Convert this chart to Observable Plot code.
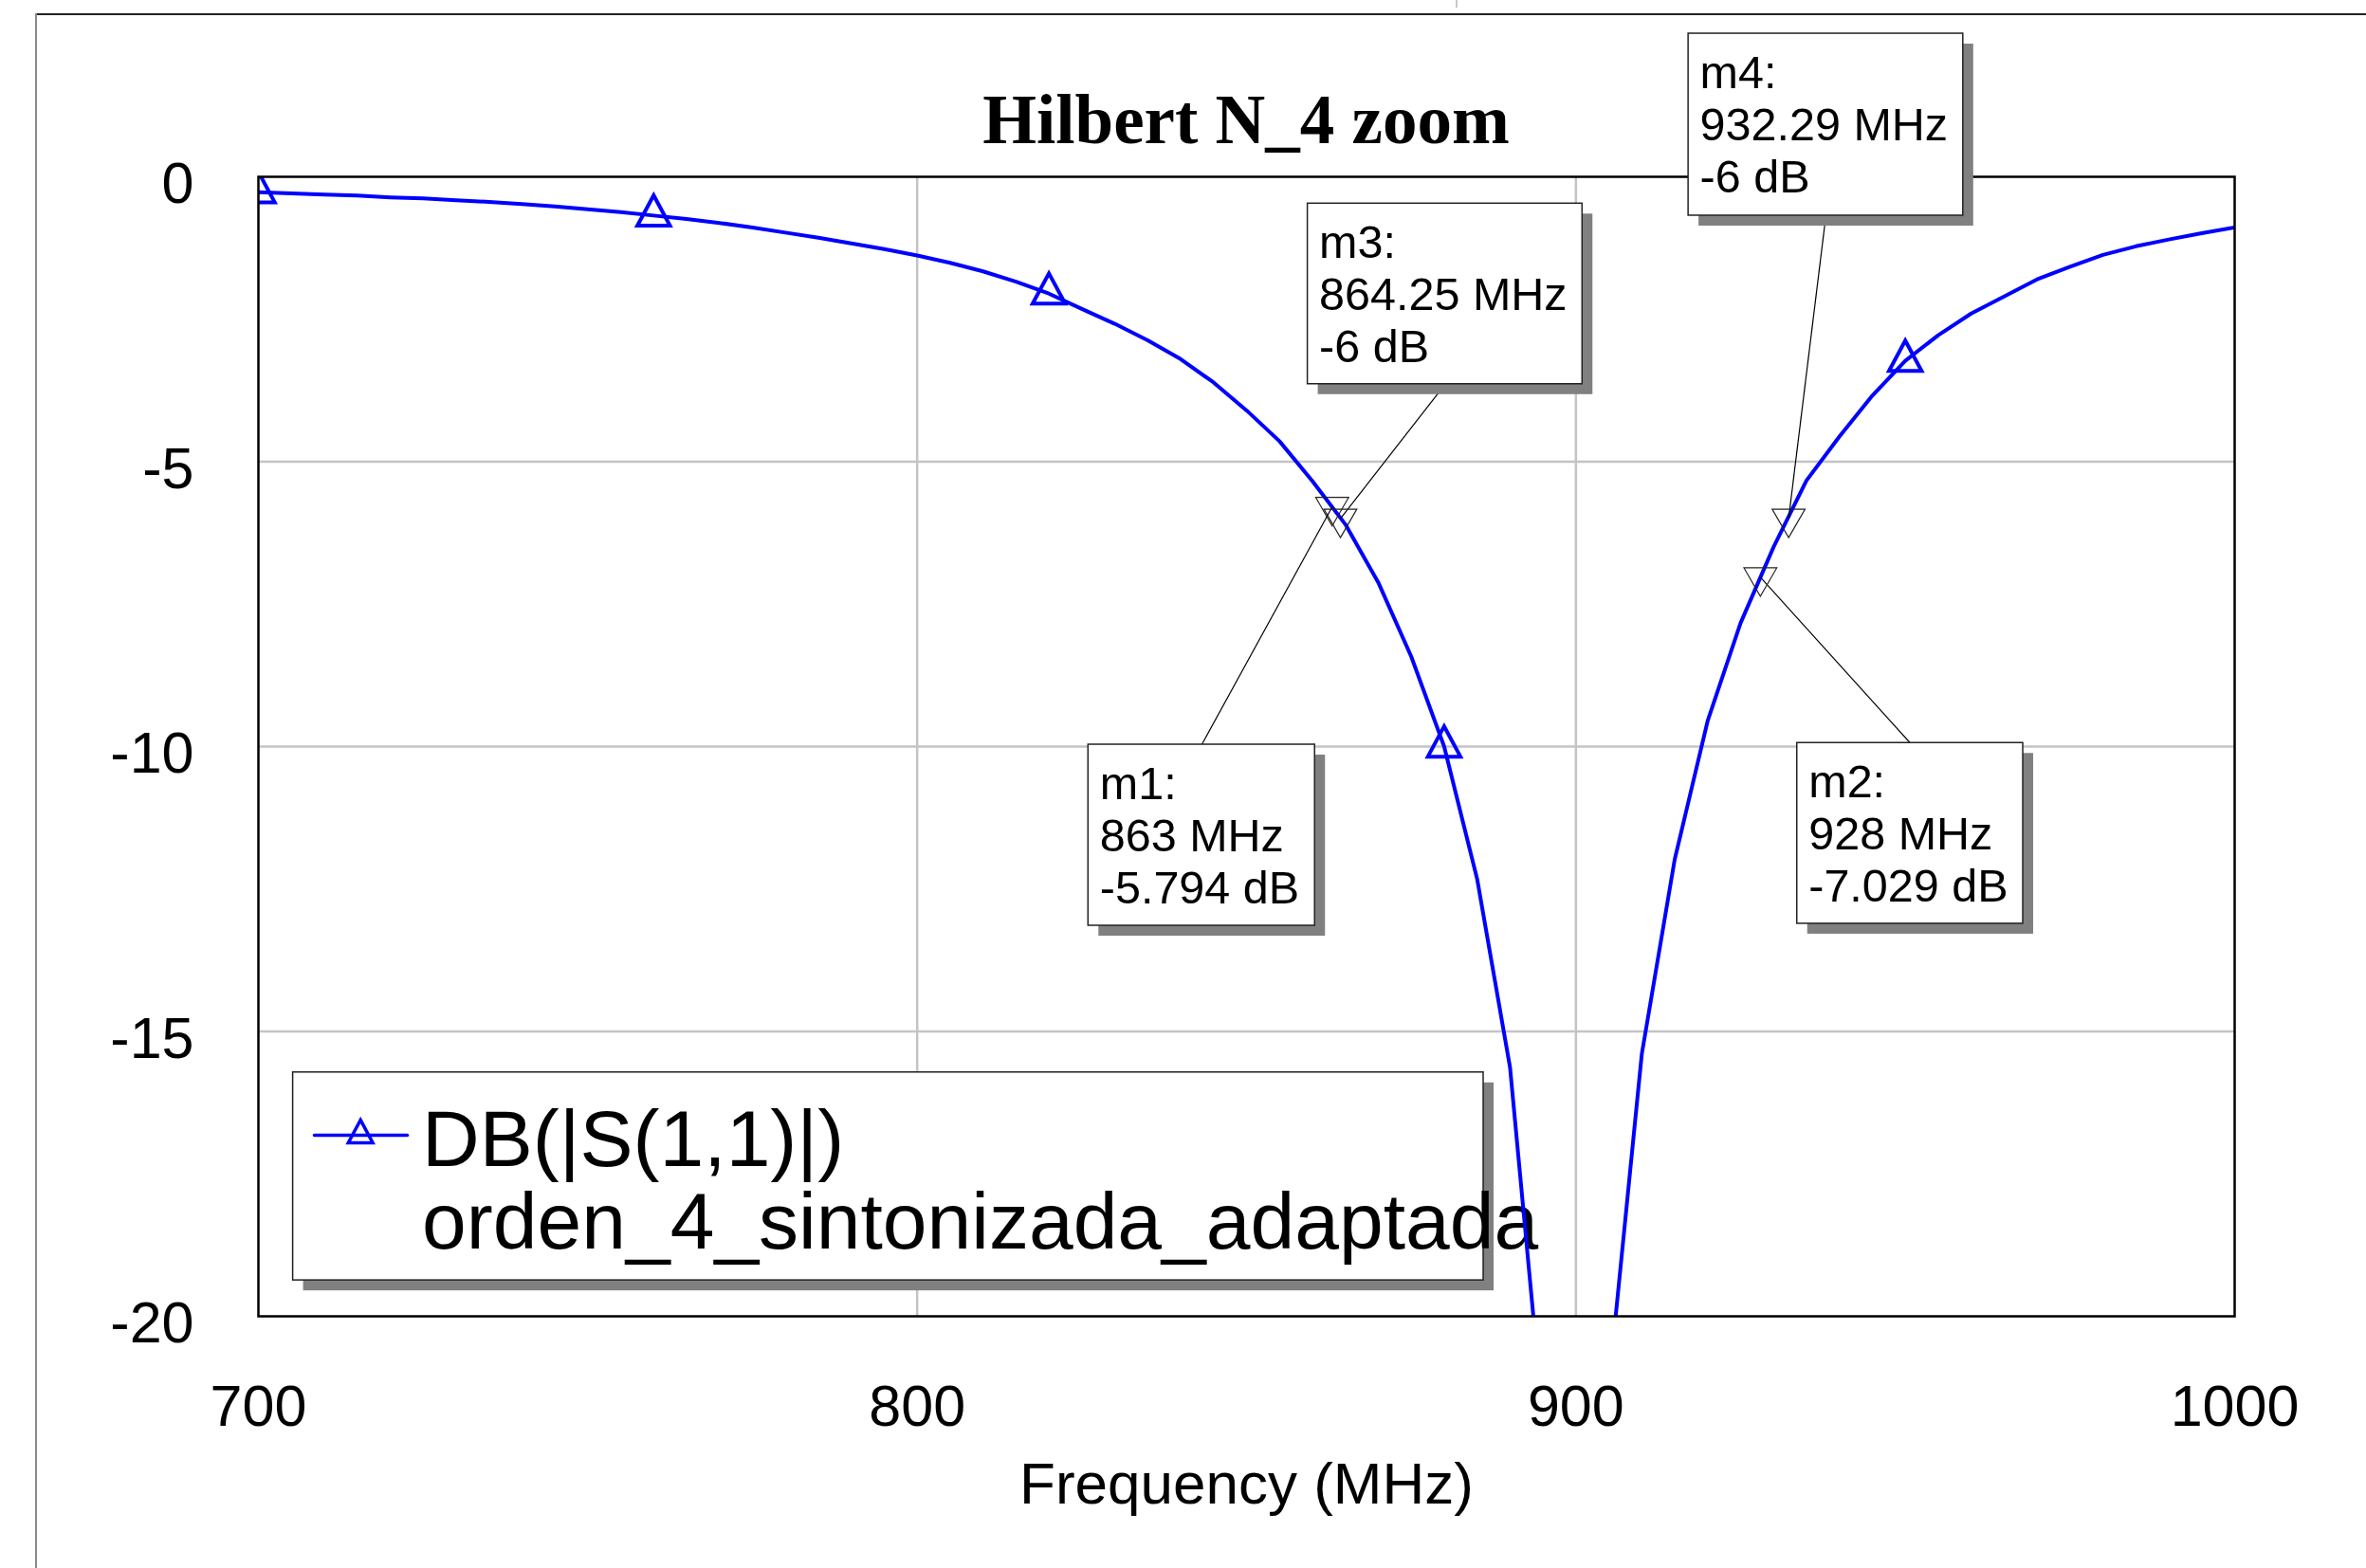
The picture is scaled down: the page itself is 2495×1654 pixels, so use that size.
<!DOCTYPE html>
<html>
<head>
<meta charset="utf-8">
<script src="https://cdn.jsdelivr.net/npm/d3@7"></script>
<script src="https://cdn.jsdelivr.net/npm/@observablehq/plot@0.6"></script>
<style>
  html, body { margin: 0; padding: 0; background: #fff; }
  #wrap { position: relative; width: 2495px; height: 1654px; overflow: hidden; background: #fff; }
  #chart { position: absolute; left: 0; top: 0; }
  #title { position: absolute; left: 0; top: 90px; width: 2628px; margin: 0; text-align: center;
           font-family: "Liberation Serif", "Times New Roman", serif; font-weight: bold;
           font-size: 73px; line-height: 1; color: #000; }
  .edge-top { position: absolute; left: 38px; top: 14px; right: 0; height: 2px; background: #222; }
  .edge-left { position: absolute; left: 37px; top: 14px; bottom: 0; width: 2px; background: #8a8a8a; }
  .nick { position: absolute; left: 1535px; top: 0; width: 2px; height: 8px; background: #c8c8c8; }
</style>
</head>
<body>
<div id="wrap">
  <div id="chart"></div>
  <h1 id="title"></h1>
  <div class="edge-top"></div>
  <div class="edge-left"></div>
  <div class="nick"></div>
</div>
<script>
// ---------------- data ----------------
const title = "Hilbert N_4 zoom";
const xLabel = "Frequency (MHz)";
const xTicks = [700, 800, 900, 1000];
const yTicks = [0, -5, -10, -15, -20];

const frequencies = [700, 705, 710, 715, 720, 725, 730, 735, 740, 745,
                     750, 755, 760, 765, 770, 775, 780, 785, 790, 795,
                     800, 805, 810, 815, 820, 825, 830, 835, 840, 845,
                     850, 855, 860, 865, 870, 875, 880, 885, 890, 895,
                     900, 905, 910, 915, 920, 925, 930, 935, 940, 945,
                     950, 955, 960, 965, 970, 975, 980, 985, 990, 995, 1000];
const s11Db = [-0.27, -0.29, -0.31, -0.33, -0.36, -0.38, -0.41, -0.44, -0.48, -0.52,
               -0.57, -0.62, -0.68, -0.74, -0.81, -0.89, -0.98, -1.07, -1.17, -1.27,
               -1.38, -1.51, -1.66, -1.84, -2.05, -2.32, -2.58, -2.87, -3.20, -3.61,
               -4.10, -4.64, -5.34, -6.10, -7.12, -8.42, -10.00, -12.32, -15.63, -21.8,
               -32.0, -21.2, -15.40, -11.98, -9.55, -7.83, -6.50, -5.33, -4.56, -3.84,
               -3.23, -2.78, -2.40, -2.10, -1.80, -1.58, -1.37, -1.22, -1.10, -0.99, -0.89];
const symbolFrequencies = [700, 760, 820, 880, 950];

const markerNames = ["m1", "m2", "m3", "m4"];
const markerFrequencies = [863, 928, 864.25, 932.29];
const markerDb = [-5.794, -7.029, -6, -6];

const legendLines = ["DB(|S(1,1)|)", "orden_4_sintonizada_adaptada"];

// ---------------- annotation layout (in chart units) ----------------
const calloutLayout = {
  m1: {x1: 826.0, x2: 860.4, y1: -9.967, y2: -13.145, leaderFrom: "top"},
  m2: {x1: 933.6, x2: 967.9, y1: -9.938, y2: -13.11,  leaderFrom: "top"},
  m3: {x1: 859.3, x2: 901.0, y1: -0.471, y2: -3.64,   leaderFrom: "bottom"},
  m4: {x1: 917.1, x2: 958.8, y1: 2.512,  y2: -0.682,  leaderFrom: "bottom"}
};
const legendLayout = {x1: 705.27, x2: 885.99, y1: -15.72, y2: -19.37,
                      sampleX1: 708.5, sampleX2: 722.6, sampleX: 715.5, sampleY: -16.82};

// ---------------- build tables ----------------
const curve = frequencies.map((f, i) => ({f, db: s11Db[i]}));
const curveSymbols = curve.filter(d => symbolFrequencies.includes(d.f));
const markers = markerNames.map((name, i) => {
  const L = calloutLayout[name];
  return {
    name, f: markerFrequencies[i], db: markerDb[i],
    label: `${name}:\n${markerFrequencies[i]} MHz\n${markerDb[i]} dB`,
    bx1: L.x1, bx2: L.x2, by1: L.y1, by2: L.y2,
    lx: (L.x1 + L.x2) / 2, ly: L.leaderFrom === "top" ? L.y1 : L.y2
  };
});
const legendBox = [legendLayout];
const legendSample = [
  {x: legendLayout.sampleX1, y: legendLayout.sampleY},
  {x: legendLayout.sampleX2, y: legendLayout.sampleY}
];
const legendSymbol = [{x: legendLayout.sampleX, y: legendLayout.sampleY}];

// custom triangle symbol (centroid at the point)
function triangle(widthRatio, down) {
  return {
    draw(ctx, size) {
      const r = Math.sqrt(size / Math.PI);
      const h = 2 * r, w = widthRatio * r, s = down ? -1 : 1;
      ctx.moveTo(0, -s * 2 * h / 3);
      ctx.lineTo(w / 2, s * h / 3);
      ctx.lineTo(-w / 2, s * h / 3);
      ctx.closePath();
    }
  };
}
const upTri = triangle(2.15, false);
const downTri = triangle(2.31, true);

const BLUE = "#0000ff";
const SANS = "'Liberation Sans', Arial, sans-serif";

document.getElementById("title").textContent = title;

const chart = Plot.plot({
  width: 2495,
  height: 1654,
  marginLeft: 272,
  marginRight: 139,
  marginTop: 186,
  marginBottom: 266,
  style: {background: "transparent", fontFamily: SANS, fontSize: "61px", color: "#000", overflow: "visible"},
  x: {domain: [700, 1000]},
  y: {domain: [-20, 0]},
  marks: [
    Plot.gridX({ticks: [800, 900], stroke: "#c4c4c4", strokeOpacity: 1, strokeWidth: 2.5}),
    Plot.gridY({ticks: [-5, -10, -15], stroke: "#c4c4c4", strokeOpacity: 1, strokeWidth: 2.5}),
    Plot.axisX({ticks: xTicks, tickSize: 0, tickPadding: 72, label: null, fontSize: 61,
                fontFamily: SANS, tickFormat: d => String(d)}),
    Plot.axisY({ticks: yTicks, tickSize: 0, tickPadding: 68, label: null, fontSize: 61, dy: 8,
                fontFamily: SANS, tickFormat: d => String(d)}),
    Plot.text([xLabel], {frameAnchor: "bottom", text: d => d, dy: 178, lineAnchor: "middle",
                         fontSize: 62, fontFamily: SANS}),

    // legend
    Plot.rect(legendBox, {x1: "x1", x2: "x2", y1: "y1", y2: "y2", fill: "#808080", dx: 11, dy: 11}),
    Plot.rect(legendBox, {x1: "x1", x2: "x2", y1: "y1", y2: "y2", fill: "#fff", stroke: "#222", strokeWidth: 1.5}),
    Plot.line(legendSample, {x: "x", y: "y", stroke: BLUE, strokeWidth: 3.5}),
    Plot.dot(legendSymbol, {x: "x", y: "y", symbol: upTri, r: 12, stroke: BLUE, strokeWidth: 3.5, fill: "none"}),
    Plot.text(legendBox, {x: "x1", y: "y1", text: () => legendLines.join("\n"), dx: 136, dy: 36.5,
                          lineAnchor: "top", textAnchor: "start", lineHeight: 1.04,
                          fontSize: 84, fontFamily: SANS, fill: "#000"}),

    // curve
    Plot.line(curve, {x: "f", y: "db", stroke: BLUE, strokeWidth: 4, clip: true}),
    Plot.dot(curveSymbols, {x: "f", y: "db", symbol: upTri, r: 16, stroke: BLUE, strokeWidth: 4,
                            fill: "none", clip: true}),

    Plot.frame({stroke: "#000", strokeWidth: 2.5}),

    // marker callouts
    Plot.link(markers, {x1: "lx", y1: "ly", x2: "f", y2: "db", stroke: "#000", strokeWidth: 1.2}),
    Plot.rect(markers, {x1: "bx1", x2: "bx2", y1: "by1", y2: "by2", fill: "#808080", dx: 11, dy: 11}),
    Plot.rect(markers, {x1: "bx1", x2: "bx2", y1: "by1", y2: "by2", fill: "#fff", stroke: "#222", strokeWidth: 1.5}),
    Plot.text(markers, {x: "bx1", y: "by1", text: "label", dx: 12, dy: 18.5, lineAnchor: "top",
                        textAnchor: "start", lineHeight: 1.134, fontSize: 48.5, fontFamily: SANS, fill: "#000"}),
    Plot.dot(markers, {x: "f", y: "db", symbol: downTri, r: 15, stroke: "#222", strokeWidth: 1.2, fill: "none"})
  ]
});
document.getElementById("chart").appendChild(chart);
</script>
</body>
</html>
